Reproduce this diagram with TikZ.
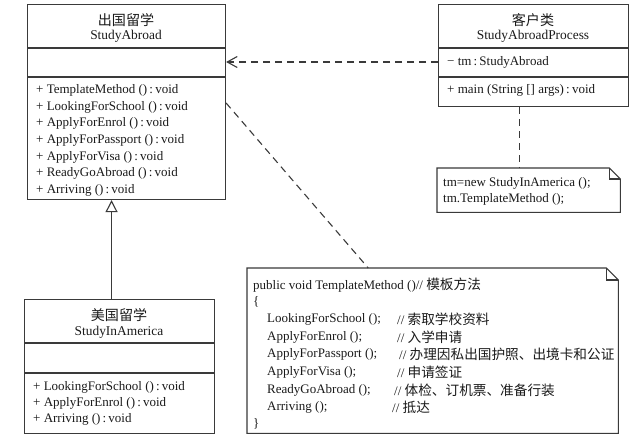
\documentclass[tikz,border=0pt]{standalone}
\usepackage{fontspec}
\setmainfont{Liberation Serif}
\newfontfamily\cjk{Noto Sans CJK SC}[Scale=1.05]
\usetikzlibrary{arrows.meta}
\definecolor{linec}{HTML}{3A3A3A}
\definecolor{txtc}{HTML}{1A1A1A}
\newcommand{\rt}[1]{\,:\,#1}
\begin{document}
\begin{tikzpicture}[x=1pt,y=-1pt,
  box/.style={draw=linec, line width=1.1pt, inner sep=0pt, anchor=north west},
  sep/.style={draw=linec, line width=1.1pt},
  lbl/.style={inner sep=0pt, anchor=west, text=txtc, font=\fontsize{13}{15}\selectfont},
  mem/.style={inner sep=0pt, anchor=west, text=txtc, font=\fontsize{13}{15}\selectfont},
  ttl/.style={inner sep=0pt, anchor=center, text=txtc, font=\fontsize{13.4}{15}\selectfont},
  dep/.style={draw=linec, line width=1.1pt, dash pattern=on 7pt off 5pt},
  notebox/.style={inner sep=0pt, anchor=north west, draw=none}
]
\useasboundingbox (0,0) rectangle (639,439);
\fill[white] (0,0) rectangle (639,439);

% ---------- StudyAbroad ----------
\node[box, minimum width=198pt, minimum height=195pt] (sa) at (27,4) {};
\draw[sep] (27,48) -- (225,48);
\draw[sep] (27,77) -- (225,77);
\node[ttl] (saT1) at (126,20) {\cjk 出国留学};
\node[ttl] (saT2) at (126,36) {StudyAbroad};
\node[mem] (sam1) at (36,90) {+ TemplateMethod ()\rt{void}};
\node[mem] (sam2) at (36,107) {+ LookingForSchool ()\rt{void}};
\node[mem] (sam3) at (36,123) {+ ApplyForEnrol ()\rt{void}};
\node[mem] (sam4) at (36,140) {+ ApplyForPassport ()\rt{void}};
\node[mem] (sam5) at (36,157) {+ ApplyForVisa ()\rt{void}};
\node[mem] (sam6) at (36,173) {+ ReadyGoAbroad ()\rt{void}};
\node[mem] (sam7) at (36,190) {+ Arriving ()\rt{void}};

% ---------- StudyAbroadProcess ----------
\node[box, minimum width=190pt, minimum height=102pt] (cl) at (438,4) {};
\draw[sep] (438,48) -- (628,48);
\draw[sep] (438,77) -- (628,77);
\node[ttl] (clT1) at (533,20) {\cjk 客户类};
\node[ttl] (clT2) at (533,36) {StudyAbroadProcess};
\node[mem] (cla1) at (447,62) {\textminus\ tm\rt{StudyAbroad}};
\node[mem] (clm1) at (447,90) {+ main (String [] args)\rt{void}};

% ---------- small note ----------
\node[notebox, minimum width=183pt, minimum height=44pt] (n1) at (437,168) {};
\draw[linec, line width=1.1pt] (n1.north west) -- ([xshift=-11pt]n1.north east) -- ([yshift=-11pt]n1.north east) -- (n1.south east) -- (n1.south west) -- cycle;
\draw[linec, line width=1.1pt] ([xshift=-11pt]n1.north east) -- ([xshift=-11pt,yshift=-11pt]n1.north east) -- ([yshift=-11pt]n1.north east);
\node[mem] (n1a) at (443,183) {tm=new StudyInAmerica ();};
\node[mem] (n1b) at (443,199) {tm.TemplateMethod ();};

% ---------- StudyInAmerica ----------
\node[box, minimum width=190pt, minimum height=134pt] (sia) at (24,299) {};
\draw[sep] (24,343) -- (214,343);
\draw[sep] (24,373) -- (214,373);
\node[ttl] (siaT1) at (119,315) {\cjk 美国留学};
\node[ttl] (siaT2) at (119,332) {StudyInAmerica};
\node[mem] (siam1) at (33,387) {+ LookingForSchool ()\rt{void}};
\node[mem] (siam2) at (33,403) {+ ApplyForEnrol ()\rt{void}};
\node[mem] (siam3) at (33,419) {+ Arriving ()\rt{void}};

% ---------- big note ----------
\node[notebox, minimum width=371pt, minimum height=165pt] (n2) at (247,268) {};
\draw[linec, line width=1.1pt] (n2.north west) -- ([xshift=-12pt]n2.north east) -- ([yshift=-12pt]n2.north east) -- (n2.south east) -- (n2.south west) -- cycle;
\draw[linec, line width=1.1pt] ([xshift=-12pt]n2.north east) -- ([xshift=-12pt,yshift=-12pt]n2.north east) -- ([yshift=-12pt]n2.north east);
\node[lbl] (c0) at (253,285) {public void TemplateMethod ()// {\cjk 模板方法}};
\node[lbl] (c1) at (253,302) {\{};
\node[lbl] (c2) at (267,319) {LookingForSchool ();};
\node[lbl] (k2) at (397,319) {// {\cjk 索取学校资料}};
\node[lbl] (c3) at (267,337) {ApplyForEnrol ();};
\node[lbl] (k3) at (397,337) {// {\cjk 入学申请}};
\node[lbl] (c4) at (267,354) {ApplyForPassport ();};
\node[lbl] (k4) at (399,354) {// {\cjk 办理因私出国护照、出境卡和公证}};
\node[lbl] (c5) at (267,372) {ApplyForVisa ();};
\node[lbl] (k5) at (397,372) {// {\cjk 申请签证}};
\node[lbl] (c6) at (267,390) {ReadyGoAbroad ();};
\node[lbl] (k6) at (394,390) {// {\cjk 体检、订机票、准备行装}};
\node[lbl] (c7) at (267,407) {Arriving ();};
\node[lbl] (k7) at (392,407) {// {\cjk 抵达}};
\node[lbl] (c8) at (253,424) {\}};

% ---------- connectors ----------
\draw[dep, -{Straight Barb[length=10pt,width=11pt]}] ([yshift=-58pt]cl.north west) -- ([yshift=-58pt]sa.north east);
\draw[dep] ([xshift=-14pt]cl.south) -- ([xshift=-14pt]cl.south |- n1.north);
\draw[dep] ([yshift=-99pt]sa.north east) -- ([xshift=-64.5pt]n2.north);
\draw[draw=linec, line width=1.1pt, -{Triangle[open, length=12pt, width=12pt, fill=white]}] ([xshift=-8pt]sia.north) -- ([xshift=-8pt]sia.north |- sa.south);
\end{tikzpicture}
\end{document}
